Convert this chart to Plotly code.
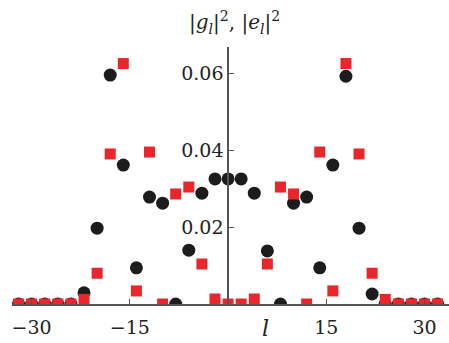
import plotly.graph_objects as go

# l positions (even integers)
l_vals = [-32, -30, -28, -26, -24, -22, -20, -18, -16, -14, -12, -10, -8, -6, -4, -2, 0,
          2, 4, 6, 8, 10, 12, 14, 16, 18, 20, 22, 24, 26, 28, 30, 32]

# |g_l|^2 (black circles)
g2 = [0.0, 0.0, 0.0, 0.0, 0.0, 0.0029, 0.0197, 0.0595, 0.0361, 0.0094, 0.0278, 0.0262,
      0.0, 0.0140, 0.0288, 0.0325, 0.0325, 0.0325, 0.0288, 0.0138, 0.0, 0.0262, 0.0278,
      0.0094, 0.0361, 0.0592, 0.0197, 0.0026, 0.0, 0.0, 0.0, 0.0, 0.0]

# |e_l|^2 (red squares)
e2 = [0.0, 0.0, 0.0, 0.0, 0.0, 0.0012, 0.0080, 0.0390, 0.0625, 0.0034, 0.0395, 0.0,
      0.0286, 0.0304, 0.0104, 0.0013, 0.0, 0.0, 0.0013, 0.0104, 0.0304, 0.0286, 0.0,
      0.0395, 0.0034, 0.0625, 0.0390, 0.0080, 0.0012, 0.0, 0.0, 0.0, 0.0]

x_ticks = [-30, -15, 15, 30]
y_ticks = [0.02, 0.04, 0.06]

FONT = "DejaVu Serif"
AXIS = "#555555"
TXT = "#222222"

fig = go.Figure()
fig.add_trace(go.Scatter(x=l_vals, y=g2, mode="markers",
                         marker=dict(symbol="circle", size=13, color="#1c1c1c", line=dict(width=0)),
                         cliponaxis=True, showlegend=False))
fig.add_trace(go.Scatter(x=l_vals, y=e2, mode="markers",
                         marker=dict(symbol="square", size=11, color="#e8262b", line=dict(width=0)),
                         cliponaxis=True, showlegend=False))

xr = [-33, 33.74]
ypos = (0 - xr[0]) / (xr[1] - xr[0])

fig.update_layout(
    width=449, height=343,
    margin=dict(l=12, r=0, t=47, b=39),
    paper_bgcolor="white", plot_bgcolor="white",
    font=dict(family=FONT, size=19, color=TXT),
    xaxis=dict(range=xr, showgrid=False, zeroline=False, showline=True,
               linecolor=AXIS, linewidth=1.5, ticks="inside", ticklen=5,
               tickcolor=AXIS, tickwidth=1.2, tickvals=x_ticks,
               ticklabelstandoff=5,
               tickfont=dict(family=FONT, size=19, color=TXT)),
    yaxis=dict(range=[0, 0.0668], showgrid=False, zeroline=False, showline=True,
               linecolor=AXIS, linewidth=1.5, ticks="inside", ticklen=5,
               tickcolor=AXIS, tickwidth=1.2, tickvals=y_ticks, tickformat=".2f",
               anchor="free", position=ypos, side="left",
               tickfont=dict(family=FONT, size=19, color=TXT)),
    annotations=[
        dict(text="|<i>g</i><sub><i>l</i></sub>|<sup>2</sup>, |<i>e</i><sub><i>l</i></sub>|<sup>2</sup>",
             xref="paper", yref="paper", x=0.51, y=1.097, xanchor="center", yanchor="middle",
             showarrow=False, font=dict(family=FONT, size=20, color=TXT)),
        dict(text="<i>l</i>", xref="paper", yref="paper", x=0.581, y=-0.095,
             xanchor="center", yanchor="middle", showarrow=False,
             font=dict(family=FONT, size=22, color=TXT)),
    ],
)

fig.write_html("out.html")
